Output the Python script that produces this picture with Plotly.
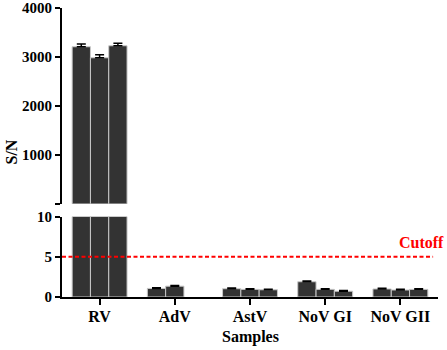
import plotly.graph_objects as go

categories = ["RV", "AdV", "AstV", "NoV GI", "NoV GII"]
series1 = [3210, 1.07, 1.03, 1.9, 1.0]
series2 = [2985, 1.35, 0.95, 0.95, 0.87]
series3 = [3230, None, 0.9, 0.72, 0.95]
err1 = [55, 0.08, 0.08, 0.1, 0.08]
err2 = [60, 0.08, 0.08, 0.08, 0.08]
err3 = [50, 0, 0.06, 0.08, 0.08]
cutoff = 5
top_ticks = [10, 1000, 2000, 3000, 4000]
top_ticktext = ["", "1000", "2000", "3000", "4000"]
bottom_ticks = [0, 5, 10]
break_value = 10

FONT = "Liberation Serif"
BAR = "#333333"
EDGE = "#c8c8c8"

fig = go.Figure()
for xa, ya, top in (("x", "y", False), ("x2", "y2", True)):
    for vals, errs in ((series1, err1), (series2, err2), (series3, err3)):
        if top:
            vals = [v if (v is not None and v > break_value) else None for v in vals]
        fig.add_trace(go.Bar(
            x=categories, y=vals, xaxis=xa, yaxis=ya,
            marker=dict(color=BAR, line=dict(color=EDGE, width=1)),
            error_y=dict(type="data", array=errs, arrayminus=[0] * len(errs),
                         color="black", thickness=1.5, width=4.5),
            showlegend=False,
        ))

fig.update_layout(
    width=447, height=350,
    margin=dict(l=62, r=9, t=8, b=52.5, autoexpand=False),
    paper_bgcolor="white", plot_bgcolor="white",
    barmode="group", bargap=0.27, bargroupgap=0,
    font=dict(family=FONT, size=15, color="black", weight="bold"),
    xaxis=dict(domain=[0, 1], anchor="y", range=[-0.5, 4.5],
               showline=True, linecolor="black", linewidth=2,
               ticks="outside", ticklen=6, tickwidth=2, tickcolor="black",
               showgrid=False, zeroline=False, automargin=False, ticklabelstandoff=-2,
               tickfont=dict(family=FONT, size=16, weight="bold")),
    xaxis2=dict(domain=[0, 1], anchor="y2", matches="x", visible=False),
    yaxis=dict(domain=[0, 0.278], anchor="x", range=[0, 10],
               tickvals=bottom_ticks, showline=True, linecolor="black", linewidth=2,
               ticks="outside", ticklen=5, tickwidth=2, tickcolor="black",
               showgrid=False, zeroline=False, automargin=False,
               tickfont=dict(family=FONT, size=15, weight="bold")),
    yaxis2=dict(domain=[0.323, 1], anchor="x2", range=[10, 4000],
                tickvals=top_ticks, ticktext=top_ticktext,
                showline=True, linecolor="black", linewidth=2,
                ticks="outside", ticklen=5, tickwidth=2, tickcolor="black",
                showgrid=False, zeroline=False, automargin=False,
                tickfont=dict(family=FONT, size=15, weight="bold")),
)

fig.add_shape(type="line", xref="paper", yref="y", x0=0, x1=0.987, y0=cutoff, y1=cutoff,
              line=dict(color="red", width=2, dash="4px,2.5px"))

fig.add_annotation(text="Cutoff", xref="paper", yref="paper", x=1.021, y=(297.5 - 243) / 289.5,
                   xanchor="right", yanchor="middle", showarrow=False,
                   font=dict(family=FONT, size=16, color="red", weight="bold"))
fig.add_annotation(text="S/N", xref="paper", yref="paper", x=(11 - 62) / 376, y=0.5,
                   xanchor="center", yanchor="middle", textangle=-90, showarrow=False,
                   font=dict(family=FONT, size=16, color="black", weight="bold"))
fig.add_annotation(text="Samples", xref="paper", yref="paper", x=0.5, y=(297.5 - 338) / 289.5,
                   xanchor="center", yanchor="middle", showarrow=False,
                   font=dict(family=FONT, size=16, color="black", weight="bold"))

fig.write_html("out.html", config={"displayModeBar": False},
               post_script="document.body.style.margin='0';document.body.style.padding='0';")
